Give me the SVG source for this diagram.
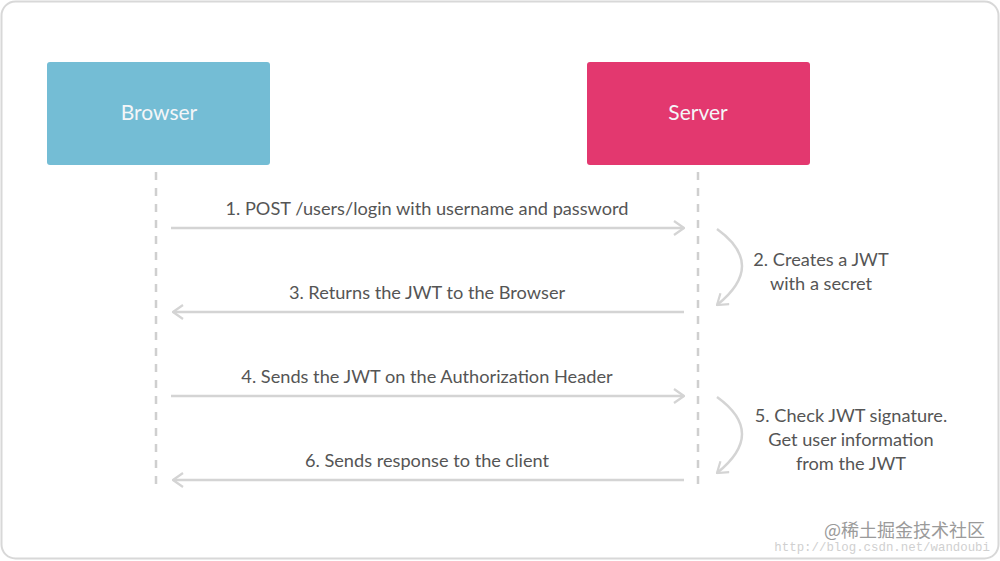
<svg xmlns="http://www.w3.org/2000/svg" width="1000" height="561" viewBox="0 0 1000 561">
<defs>
<style>
.lbl{font-family:Lato,"Open Sans","Liberation Sans",sans-serif;font-size:18.2px;fill:#555;text-anchor:middle}
.node{font-family:Lato,"Open Sans","Liberation Sans",sans-serif;font-size:21px;fill:#f4f6f8;text-anchor:middle}
.life{stroke:#cfcfcf;stroke-width:2.5;stroke-dasharray:8,8;fill:none}
.msg{stroke:#d4d4d4;stroke-width:2.5;fill:none}
</style>
<marker id="ah" viewBox="0 0 12 16" refX="11" refY="8" markerWidth="12" markerHeight="16" markerUnits="userSpaceOnUse" orient="auto">
<path d="M1,1 L11,8 L1,15" fill="none" stroke="#d4d4d4" stroke-width="2.2"/>
</marker>
</defs>
<rect x="1.5" y="1.5" width="997" height="557" rx="14" fill="#fff" stroke="#d8d8d8" stroke-width="2"/>
<g id="browser">
<rect x="47" y="62" width="223" height="103" rx="3" fill="#74bdd5"/>
<text class="node" x="159" y="120">Browser</text>
</g>
<g id="server">
<rect x="587" y="62" width="223" height="103" rx="3" fill="#e3386f"/>
<text class="node" x="698" y="120">Server</text>
</g>
<g id="connectors">
<line class="life" x1="156" y1="172" x2="156" y2="486"/>
<line class="life" x1="698" y1="172" x2="698" y2="486"/>
<line class="msg" x1="171" y1="228" x2="684" y2="228" marker-end="url(#ah)"/>
<line class="msg" x1="684" y1="312" x2="173" y2="312" marker-end="url(#ah)"/>
<line class="msg" x1="171" y1="396" x2="684" y2="396" marker-end="url(#ah)"/>
<line class="msg" x1="684" y1="480" x2="173" y2="480" marker-end="url(#ah)"/>
<path class="msg" d="M717,229 Q767,265 717,305" marker-end="url(#ah)"/>
<path class="msg" d="M717,397 Q767,433 717,473" marker-end="url(#ah)"/>
</g>
<g id="labels">
<text class="lbl" x="427" y="215">1. POST /users/login with username and password</text>
<text class="lbl" x="427" y="299">3. Returns the JWT to the Browser</text>
<text class="lbl" x="427" y="383">4. Sends the JWT on the Authorization Header</text>
<text class="lbl" x="427" y="467">6. Sends response to the client</text>
<text class="lbl" x="821" y="266">2. Creates a JWT</text>
<text class="lbl" x="821" y="290">with a secret</text>
<text class="lbl" x="851" y="422">5. Check JWT signature.</text>
<text class="lbl" x="851" y="446">Get user information</text>
<text class="lbl" x="851" y="470">from the JWT</text>
</g>
<g id="watermark">
<text x="985" y="537" style="font-family:'Noto Sans CJK SC',sans-serif;font-size:18px;fill:#9a9a9a;text-anchor:end">@稀土掘金技术社区</text>
<text x="990" y="551" style="font-family:'Liberation Mono',monospace;font-size:12.4px;fill:#d0d0d0;text-anchor:end">http://blog.csdn.net/wandoubi</text>
</g>
</svg>
